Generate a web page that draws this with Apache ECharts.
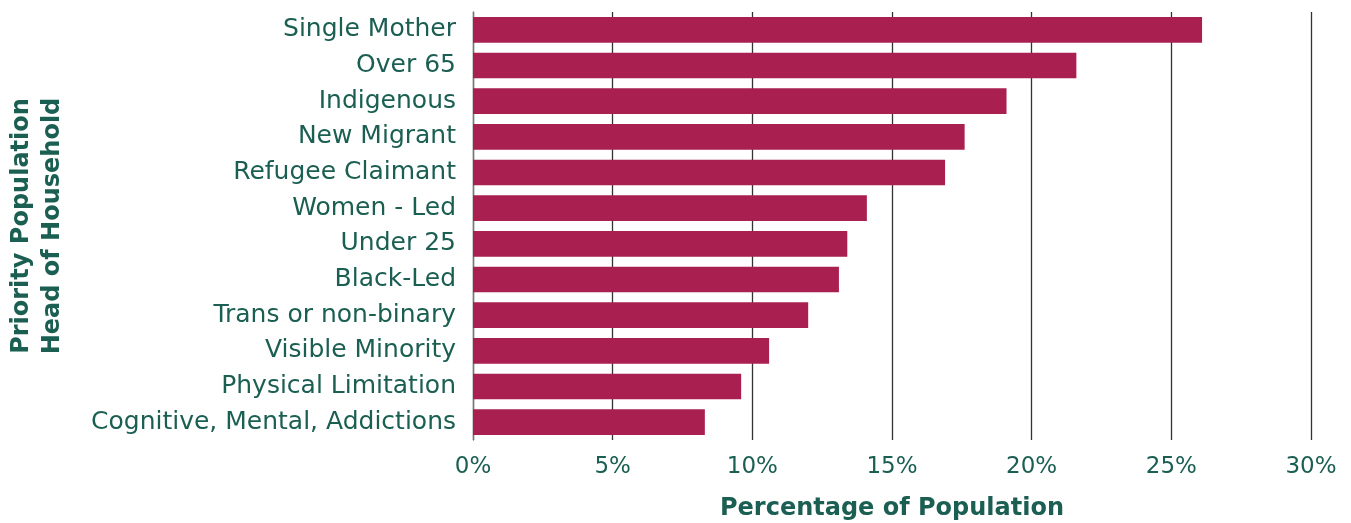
<!DOCTYPE html>
<html><head><meta charset="utf-8">
<script src="https://cdn.jsdelivr.net/npm/echarts@6/dist/echarts.min.js"></script>
<style>html,body{margin:0;padding:0;background:#fff}#c{width:1351px;height:523px}</style>
</head><body><div id="c"></div>
<script>
const categories = ["Single Mother","Over 65","Indigenous","New Migrant","Refugee Claimant","Women - Led","Under 25","Black-Led","Trans or non-binary","Visible Minority","Physical Limitation","Cognitive, Mental, Addictions"];
const values = [26.1, 21.6, 19.1, 17.6, 16.9, 14.1, 13.4, 13.1, 12.0, 10.6, 9.6, 8.3];
const xTicks = [0, 5, 10, 15, 20, 25, 30];
const textColor = "#1b5e52";
const font = 'DejaVu Sans';
const chart = echarts.init(document.getElementById('c'));
chart.setOption({
  animation: false,
  grid: {left: 473, right: 40, top: 12, bottom: 83, containLabel: false, outerBoundsMode: 'none'},
  xAxis: {
    type: 'value', min: xTicks[0], max: xTicks[xTicks.length-1], interval: 5,
    axisLine: {show: false}, axisTick: {show: false},
    splitLine: {show: true, lineStyle: {color: '#333', width: 1.3}},
    axisLabel: {formatter: v => v + '%', color: textColor, fontSize: 23, fontFamily: font, margin: 16},
    name: 'Percentage of Population', nameLocation: 'middle', nameGap: 57,
    nameTextStyle: {color: textColor, fontSize: 24, fontWeight: 'bold', fontFamily: font}
  },
  yAxis: {
    type: 'category', data: categories, inverse: true,
    axisLine: {show: true, lineStyle: {color: '#777', width: 1.3}}, axisTick: {show: false},
    axisLabel: {color: textColor, fontSize: 25, fontFamily: font, margin: 17},
    name: 'Priority Population\nHead of Household', nameLocation: 'middle', nameRotate: 90, nameGap: 405,
    nameTextStyle: {color: textColor, fontSize: 24, fontWeight: 'bold', fontFamily: font, lineHeight: 31}
  },
  series: [{
    type: 'bar', data: values, barCategoryGap: '28%',
    itemStyle: {color: '#a91f50'}
  }]
});
</script></body></html>
